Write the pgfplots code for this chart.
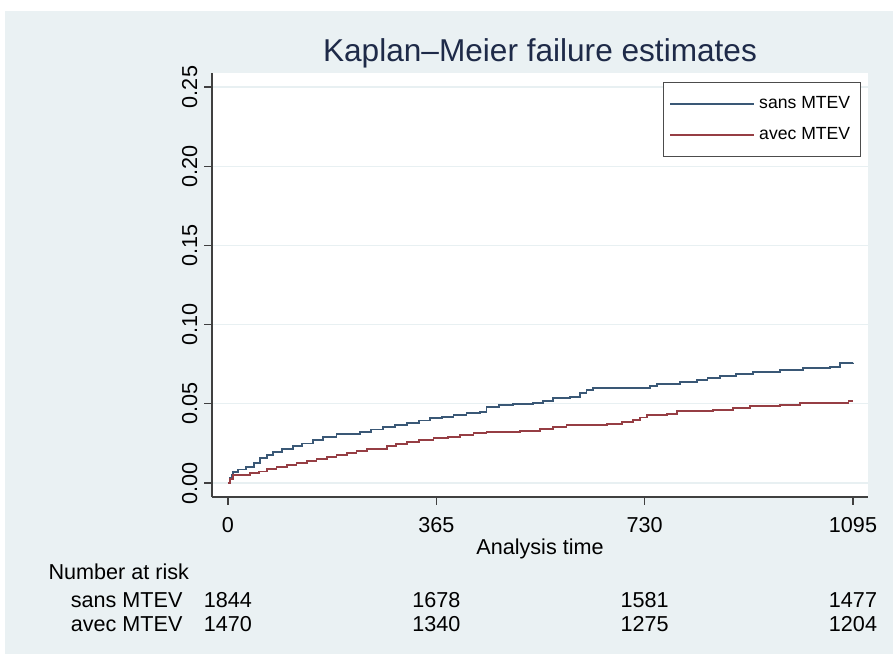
\documentclass[border=0pt]{standalone}
\usepackage{pgfplots}
\pgfplotsset{compat=1.18}
\usepackage{fontspec}
\setmainfont{Liberation Sans}
\definecolor{bgc}{RGB}{234,241,243}
\definecolor{gridc}{RGB}{232,240,242}
\definecolor{ttl}{RGB}{30,42,72}
\definecolor{kmblue}{RGB}{58,88,118}
\definecolor{kmred}{RGB}{150,62,68}
\begin{document}
\begin{tikzpicture}
\fill[white] (0,0) rectangle (446.5pt,327pt);
\fill[bgc] (2.5pt,0) rectangle (446.5pt,321.5pt);
\begin{axis}[
  at={(106pt,78.5pt)}, anchor=south west,
  scale only axis, width=328pt, height=212pt,
  xmin=-28, xmax=1121.3, ymin=-0.00884, ymax=0.25884,
  axis x line*=bottom, axis y line*=left,
  axis line style={black!75, line width=0.6pt},
  axis background/.style={fill=white},
  xtick={0,365,730,1095},
  xticklabels={0,365,730,1095},
  ytick={0,0.05,0.10,0.15,0.20,0.25},
  yticklabels={0.00,0.05,0.10,0.15,0.20,0.25},
  ymajorgrids, grid style={gridc, line width=0.6pt},
  tick align=outside, major tick length=3.8pt,
  tick style={black!75, line width=0.6pt},
  /pgf/number format/assume math mode=true,
  xticklabel style={font=\fontsize{10.8}{12}\selectfont, yshift=-3pt},
  yticklabel style={font=\fontsize{10.8}{12}\selectfont, rotate=90, anchor=south, xshift=0pt},
  xlabel={Analysis time},
  xlabel style={font=\fontsize{10.8}{12}\selectfont, yshift=4pt},
  title={Kaplan–Meier failure estimates},
  title style={font=\fontsize{15.8}{18}\selectfont, text=ttl, yshift=-7pt},
  clip=false,
  legend style={draw=black!70, fill=white, at={(0.989,0.979)}, anchor=north east,
    font=\fontsize{8.8}{10}\selectfont, row sep=4pt, inner xsep=3pt, inner ysep=5pt,
    cells={anchor=west}, line width=0.6pt},
  legend image code/.code={\draw[#1] (0pt,0pt) -- (42pt,0pt);},
]
\addplot[const plot, kmblue, line width=0.9pt] coordinates {
(0,0) (3,0.003) (6,0.005) (9,0.0071) (18,0.0085) (32,0.0103) (45,0.0125) (56,0.0156)
(68,0.0175) (79,0.0198) (95,0.0215) (114,0.0234) (130,0.0250) (149,0.0271) (167,0.0292)
(190,0.0309) (231,0.0324) (250,0.0338) (272,0.0352) (292,0.0366) (313,0.0381) (335,0.0395)
(354,0.0408) (375,0.0418) (395,0.0429) (418,0.0440) (441,0.0450) (453,0.0482) (475,0.0490)
(500,0.0497) (535,0.0503) (552,0.0518) (570,0.0535) (599,0.0545) (617,0.0570) (628,0.0585)
(640,0.0598) (728,0.0598) (740,0.0612) (751,0.0625) (792,0.0636) (821,0.0650) (840,0.0662)
(862,0.0676) (890,0.0688) (920,0.0699) (967,0.0713) (1008,0.0724) (1055,0.0734) (1072,0.0756)
(1095,0.0759)};
\addlegendentry{sans MTEV}
\addplot[const plot, kmred, line width=0.9pt] coordinates {
(0,0) (4,0.0025) (9,0.0051) (38,0.0061) (55,0.0072) (68,0.0086) (85,0.0100) (103,0.0114)
(120,0.0128) (138,0.0141) (155,0.0154) (173,0.0166) (190,0.0176) (208,0.0187) (225,0.0200)
(243,0.0215) (278,0.0234) (295,0.0248) (313,0.0261) (335,0.0272) (360,0.0282) (385,0.0292)
(406,0.0303) (430,0.0314) (453,0.0322) (512,0.0330) (547,0.0339) (570,0.0352) (593,0.0366)
(664,0.0372) (690,0.0385) (710,0.0398) (722,0.0414) (734,0.0429) (769,0.0436) (786,0.0456)
(850,0.0461) (885,0.0472) (915,0.0486) (967,0.0492) (1002,0.0507) (1078,0.0507) (1087,0.0520)
(1095,0.0520)};
\addlegendentry{avec MTEV}
% number at risk table
\begin{scope}[font=\fontsize{10.8}{12}\selectfont]
\node[anchor=west, inner sep=0pt] at (axis cs:-315,-0.0562) {Number at risk};
\node[anchor=east, inner sep=0pt] at (axis cs:-79,-0.0739) {sans MTEV};
\node[anchor=east, inner sep=0pt] at (axis cs:-79,-0.0890) {avec MTEV};
\node at (axis cs:0,-0.0739) {1844};
\node at (axis cs:365,-0.0739) {1678};
\node at (axis cs:730,-0.0739) {1581};
\node at (axis cs:1095,-0.0739) {1477};
\node at (axis cs:0,-0.0890) {1470};
\node at (axis cs:365,-0.0890) {1340};
\node at (axis cs:730,-0.0890) {1275};
\node at (axis cs:1095,-0.0890) {1204};
\end{scope}
\end{axis}
\pgfresetboundingbox
\useasboundingbox (0,0) rectangle (446.5pt,327pt);
\end{tikzpicture}
\end{document}
